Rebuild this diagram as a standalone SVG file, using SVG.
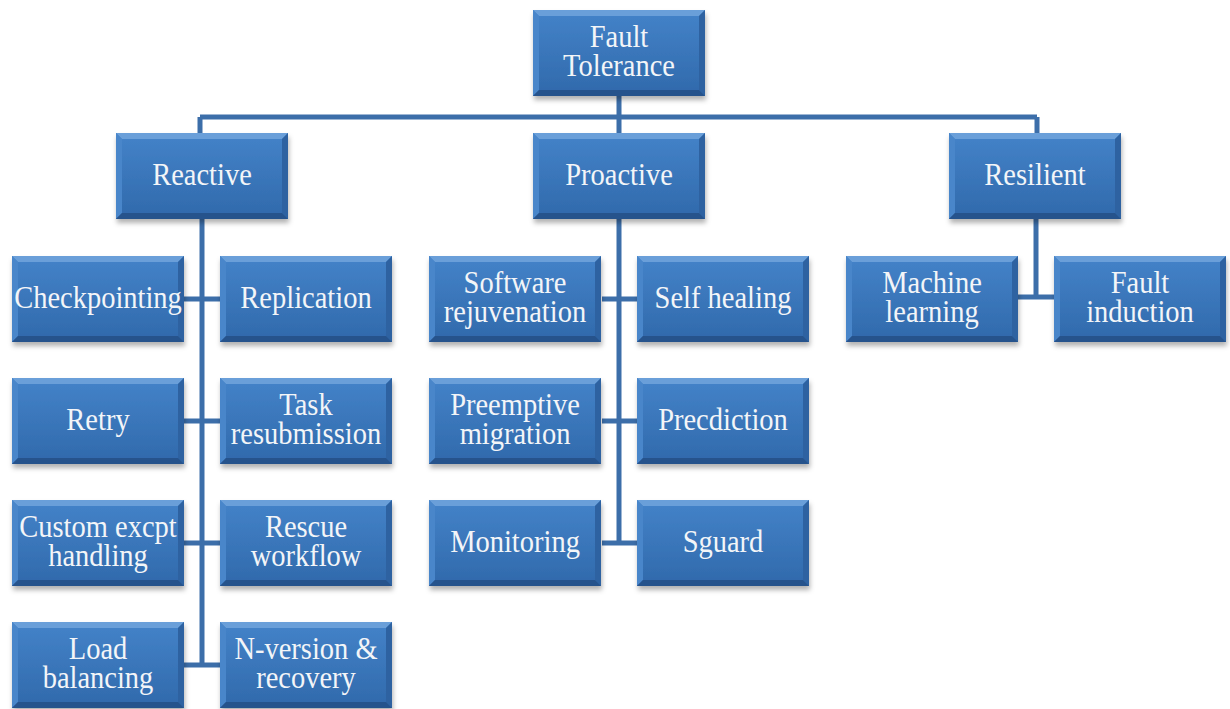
<svg xmlns="http://www.w3.org/2000/svg" xmlns:xlink="http://www.w3.org/1999/xlink" width="1230" height="709" viewBox="0 0 1230 709">
<defs>
<linearGradient id="face" x1="0" y1="0" x2="0" y2="1">
<stop offset="0" stop-color="#4483c9"/>
<stop offset="1" stop-color="#3069ab"/>
</linearGradient>
<filter id="sh" x="-10%" y="-10%" width="125%" height="135%">
<feDropShadow dx="1" dy="4" stdDeviation="2.5" flood-color="#000" flood-opacity="0.3"/>
</filter>
<symbol id="box" viewBox="0 0 172 86" width="172" height="86" overflow="visible">
<g filter="url(#sh)">
<rect x="0" y="0" width="172" height="86" fill="url(#face)"/>
<polygon points="0,0 172,0 166,6 6,6" fill="#6a9fd9"/>
<polygon points="0,0 6,6 6,80 0,86" fill="#4886ca"/>
<polygon points="172,0 172,86 166,80 166,6" fill="#2d62a1"/>
<polygon points="0,86 172,86 166,80 6,80" fill="#25538c"/>
</g>
</symbol>
</defs>
<style>
.lbl{font-family:"Liberation Serif","Times New Roman",serif;font-size:28.5px;fill:#f3f5f8;text-anchor:middle}
.conn{stroke:#3c6ea9;stroke-width:5;fill:none}
</style>
<rect width="1230" height="709" fill="#fff"/>
<g id="connectors" class="conn">
<path d="M619,96 V117 M200,117 H1037 M200,117 V133 M619,117 V133 M1037,117 V133"/>
<path d="M202,219 V665 M183,299 H220 M183,421 H220 M183,543 H220 M183,665 H220"/>
<path d="M619,219 V543 M602,299 H637 M602,421 H637 M602,543 H637"/>
<path d="M1036,219 V297 M1018,297 H1054"/>
</g>
<g id="n-fault-tolerance"><use href="#box" xlink:href="#box" x="533" y="10"/>
<text class="lbl" transform="translate(619,47) scale(1,1.1)">Fault</text>
<text class="lbl" transform="translate(619,76) scale(1,1.1)">Tolerance</text></g>
<g id="n-reactive"><use href="#box" xlink:href="#box" x="116" y="133"/>
<text class="lbl" transform="translate(202,185) scale(1,1.1)">Reactive</text></g>
<g id="n-proactive"><use href="#box" xlink:href="#box" x="533" y="133"/>
<text class="lbl" transform="translate(619,185) scale(1,1.1)">Proactive</text></g>
<g id="n-resilient"><use href="#box" xlink:href="#box" x="949" y="133"/>
<text class="lbl" transform="translate(1035,185) scale(1,1.1)">Resilient</text></g>

<g id="n-checkpointing"><use href="#box" xlink:href="#box" x="12" y="256"/>
<text class="lbl" transform="translate(98,308) scale(1,1.1)">Checkpointing</text></g>
<g id="n-replication"><use href="#box" xlink:href="#box" x="220" y="256"/>
<text class="lbl" transform="translate(306,308) scale(1,1.1)">Replication</text></g>
<g id="n-retry"><use href="#box" xlink:href="#box" x="12" y="378"/>
<text class="lbl" transform="translate(98,430) scale(1,1.1)">Retry</text></g>
<g id="n-task-resubmission"><use href="#box" xlink:href="#box" x="220" y="378"/>
<text class="lbl" transform="translate(306,415) scale(1,1.1)">Task</text>
<text class="lbl" transform="translate(306,444) scale(1,1.1)">resubmission</text></g>
<g id="n-custom-excpt"><use href="#box" xlink:href="#box" x="12" y="500"/>
<text class="lbl" transform="translate(98,537) scale(1,1.1)">Custom excpt</text>
<text class="lbl" transform="translate(98,566) scale(1,1.1)">handling</text></g>
<g id="n-rescue-workflow"><use href="#box" xlink:href="#box" x="220" y="500"/>
<text class="lbl" transform="translate(306,537) scale(1,1.1)">Rescue</text>
<text class="lbl" transform="translate(306,566) scale(1,1.1)">workflow</text></g>
<g id="n-load-balancing"><use href="#box" xlink:href="#box" x="12" y="622"/>
<text class="lbl" transform="translate(98,659) scale(1,1.1)">Load</text>
<text class="lbl" transform="translate(98,688) scale(1,1.1)">balancing</text></g>
<g id="n-nversion"><use href="#box" xlink:href="#box" x="220" y="622"/>
<text class="lbl" transform="translate(306,659) scale(1,1.1)">N-version &amp;</text>
<text class="lbl" transform="translate(306,688) scale(1,1.1)">recovery</text></g>

<g id="n-software-rejuvenation"><use href="#box" xlink:href="#box" x="429" y="256"/>
<text class="lbl" transform="translate(515,293) scale(1,1.1)">Software</text>
<text class="lbl" transform="translate(515,322) scale(1,1.1)">rejuvenation</text></g>
<g id="n-self-healing"><use href="#box" xlink:href="#box" x="637" y="256"/>
<text class="lbl" transform="translate(723,308) scale(1,1.1)">Self healing</text></g>
<g id="n-preemptive-migration"><use href="#box" xlink:href="#box" x="429" y="378"/>
<text class="lbl" transform="translate(515,415) scale(1,1.1)">Preemptive</text>
<text class="lbl" transform="translate(515,444) scale(1,1.1)">migration</text></g>
<g id="n-precdiction"><use href="#box" xlink:href="#box" x="637" y="378"/>
<text class="lbl" transform="translate(723,430) scale(1,1.1)">Precdiction</text></g>
<g id="n-monitoring"><use href="#box" xlink:href="#box" x="429" y="500"/>
<text class="lbl" transform="translate(515,552) scale(1,1.1)">Monitoring</text></g>
<g id="n-sguard"><use href="#box" xlink:href="#box" x="637" y="500"/>
<text class="lbl" transform="translate(723,552) scale(1,1.1)">Sguard</text></g>

<g id="n-machine-learning"><use href="#box" xlink:href="#box" x="846" y="256"/>
<text class="lbl" transform="translate(932,293) scale(1,1.1)">Machine</text>
<text class="lbl" transform="translate(932,322) scale(1,1.1)">learning</text></g>
<g id="n-fault-induction"><use href="#box" xlink:href="#box" x="1054" y="256"/>
<text class="lbl" transform="translate(1140,293) scale(1,1.1)">Fault</text>
<text class="lbl" transform="translate(1140,322) scale(1,1.1)">induction</text></g>
</svg>
